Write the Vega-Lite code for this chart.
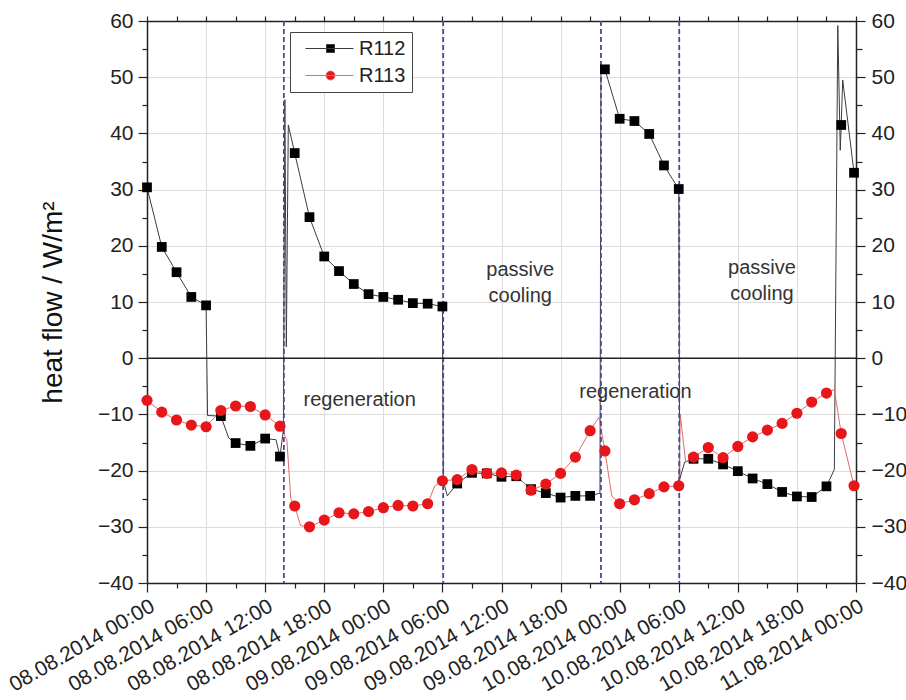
{
  "$schema": "https://vega.github.io/schema/vega-lite/v6.json",
  "width": 709,
  "height": 562,
  "autosize": {"type": "none"},
  "padding": {"left": 147, "top": 21, "right": 50, "bottom": 117},
  "background": "white",
  "config": {
    "font": "Liberation Sans",
    "view": {"stroke": null},
    "axis": {"labelFont": "Liberation Sans", "titleFont": "Liberation Sans", "labelColor": "#222", "tickColor": "#222", "domainColor": "#222", "domainWidth": 1.5, "tickWidth": 1.2, "gridColor": "#dcdcdc", "gridWidth": 1},
    "legend": {"labelFont": "Liberation Sans"}
  },
  "datasets": {
    "hf": [
      {"series": "R112", "hour": 0, "value": 30.4, "m": 1},
      {"series": "R112", "hour": 1.5, "value": 19.8, "m": 1},
      {"series": "R112", "hour": 3, "value": 15.3, "m": 1},
      {"series": "R112", "hour": 4.5, "value": 10.9, "m": 1},
      {"series": "R112", "hour": 6, "value": 9.4, "m": 1},
      {"series": "R112", "hour": 6.15, "value": -10.2, "m": 0},
      {"series": "R112", "hour": 7.5, "value": -10.3, "m": 1},
      {"series": "R112", "hour": 8.3, "value": -14.2, "m": 0},
      {"series": "R112", "hour": 9, "value": -15.1, "m": 1},
      {"series": "R112", "hour": 10.5, "value": -15.6, "m": 1},
      {"series": "R112", "hour": 12, "value": -14.3, "m": 1},
      {"series": "R112", "hour": 13.1, "value": -14.5, "m": 0},
      {"series": "R112", "hour": 13.5, "value": -17.5, "m": 1},
      {"series": "R112", "hour": 13.85, "value": -12.8, "m": 0},
      {"series": "R112", "hour": 14.0, "value": 46, "m": 0},
      {"series": "R112", "hour": 14.15, "value": 2, "m": 0},
      {"series": "R112", "hour": 14.35, "value": 41.5, "m": 0},
      {"series": "R112", "hour": 15, "value": 36.5, "m": 1},
      {"series": "R112", "hour": 16.5, "value": 25.1, "m": 1},
      {"series": "R112", "hour": 18, "value": 18.1, "m": 1},
      {"series": "R112", "hour": 19.5, "value": 15.5, "m": 1},
      {"series": "R112", "hour": 21, "value": 13.2, "m": 1},
      {"series": "R112", "hour": 22.5, "value": 11.4, "m": 1},
      {"series": "R112", "hour": 24, "value": 10.9, "m": 1},
      {"series": "R112", "hour": 25.5, "value": 10.4, "m": 1},
      {"series": "R112", "hour": 27, "value": 9.8, "m": 1},
      {"series": "R112", "hour": 28.5, "value": 9.7, "m": 1},
      {"series": "R112", "hour": 30, "value": 9.2, "m": 1},
      {"series": "R112", "hour": 30.1, "value": -22, "m": 0},
      {"series": "R112", "hour": 30.5, "value": -24.5, "m": 0},
      {"series": "R112", "hour": 31.5, "value": -22.3, "m": 1},
      {"series": "R112", "hour": 33, "value": -20.4, "m": 1},
      {"series": "R112", "hour": 34.5, "value": -20.5, "m": 1},
      {"series": "R112", "hour": 36, "value": -21.1, "m": 1},
      {"series": "R112", "hour": 37.5, "value": -21.0, "m": 1},
      {"series": "R112", "hour": 39, "value": -23.3, "m": 1},
      {"series": "R112", "hour": 40.5, "value": -24.0, "m": 1},
      {"series": "R112", "hour": 42, "value": -24.8, "m": 1},
      {"series": "R112", "hour": 43.5, "value": -24.5, "m": 1},
      {"series": "R112", "hour": 45, "value": -24.5, "m": 1},
      {"series": "R112", "hour": 46.0, "value": -24.0, "m": 0},
      {"series": "R112", "hour": 46.1, "value": 52.0, "m": 0},
      {"series": "R112", "hour": 46.5, "value": 51.4, "m": 1},
      {"series": "R112", "hour": 48, "value": 42.6, "m": 1},
      {"series": "R112", "hour": 49.5, "value": 42.2, "m": 1},
      {"series": "R112", "hour": 51, "value": 39.9, "m": 1},
      {"series": "R112", "hour": 52.5, "value": 34.3, "m": 1},
      {"series": "R112", "hour": 54, "value": 30.1, "m": 1},
      {"series": "R112", "hour": 54.1, "value": -21.5, "m": 0},
      {"series": "R112", "hour": 54.6, "value": -18.5, "m": 0},
      {"series": "R112", "hour": 55.5, "value": -17.9, "m": 1},
      {"series": "R112", "hour": 57, "value": -17.9, "m": 1},
      {"series": "R112", "hour": 58.5, "value": -18.9, "m": 1},
      {"series": "R112", "hour": 60, "value": -20.1, "m": 1},
      {"series": "R112", "hour": 61.5, "value": -21.4, "m": 1},
      {"series": "R112", "hour": 63, "value": -22.4, "m": 1},
      {"series": "R112", "hour": 64.5, "value": -23.8, "m": 1},
      {"series": "R112", "hour": 66, "value": -24.6, "m": 1},
      {"series": "R112", "hour": 67.5, "value": -24.7, "m": 1},
      {"series": "R112", "hour": 69, "value": -22.8, "m": 1},
      {"series": "R112", "hour": 69.8, "value": -19.8, "m": 0},
      {"series": "R112", "hour": 70.15, "value": 59.2, "m": 0},
      {"series": "R112", "hour": 70.4, "value": 37.0, "m": 0},
      {"series": "R112", "hour": 70.5, "value": 41.5, "m": 1},
      {"series": "R112", "hour": 70.65, "value": 49.5, "m": 0},
      {"series": "R112", "hour": 71.8, "value": 33.0, "m": 1},
      {"series": "R113", "hour": 0, "value": -7.5, "m": 1},
      {"series": "R113", "hour": 1.5, "value": -9.6, "m": 1},
      {"series": "R113", "hour": 3, "value": -11.0, "m": 1},
      {"series": "R113", "hour": 4.5, "value": -11.9, "m": 1},
      {"series": "R113", "hour": 6, "value": -12.2, "m": 1},
      {"series": "R113", "hour": 7.5, "value": -9.3, "m": 1},
      {"series": "R113", "hour": 9, "value": -8.5, "m": 1},
      {"series": "R113", "hour": 10.5, "value": -8.6, "m": 1},
      {"series": "R113", "hour": 12, "value": -10.1, "m": 1},
      {"series": "R113", "hour": 13.5, "value": -12.1, "m": 1},
      {"series": "R113", "hour": 14.2, "value": -14.5, "m": 0},
      {"series": "R113", "hour": 14.6, "value": -25.0, "m": 0},
      {"series": "R113", "hour": 15, "value": -26.3, "m": 1},
      {"series": "R113", "hour": 15.6, "value": -29.8, "m": 0},
      {"series": "R113", "hour": 16.5, "value": -30.0, "m": 1},
      {"series": "R113", "hour": 18, "value": -28.8, "m": 1},
      {"series": "R113", "hour": 19.5, "value": -27.5, "m": 1},
      {"series": "R113", "hour": 21, "value": -27.7, "m": 1},
      {"series": "R113", "hour": 22.5, "value": -27.3, "m": 1},
      {"series": "R113", "hour": 24, "value": -26.6, "m": 1},
      {"series": "R113", "hour": 25.5, "value": -26.2, "m": 1},
      {"series": "R113", "hour": 27, "value": -26.3, "m": 1},
      {"series": "R113", "hour": 28.5, "value": -25.9, "m": 1},
      {"series": "R113", "hour": 29.2, "value": -22.8, "m": 0},
      {"series": "R113", "hour": 30, "value": -21.8, "m": 1},
      {"series": "R113", "hour": 31.5, "value": -21.6, "m": 1},
      {"series": "R113", "hour": 33, "value": -19.8, "m": 1},
      {"series": "R113", "hour": 34.5, "value": -20.5, "m": 1},
      {"series": "R113", "hour": 36, "value": -20.4, "m": 1},
      {"series": "R113", "hour": 37.5, "value": -20.8, "m": 1},
      {"series": "R113", "hour": 39, "value": -23.5, "m": 1},
      {"series": "R113", "hour": 40.5, "value": -22.4, "m": 1},
      {"series": "R113", "hour": 42, "value": -20.5, "m": 1},
      {"series": "R113", "hour": 43.5, "value": -17.6, "m": 1},
      {"series": "R113", "hour": 45, "value": -12.9, "m": 1},
      {"series": "R113", "hour": 45.9, "value": -10.5, "m": 0},
      {"series": "R113", "hour": 46.5, "value": -16.5, "m": 1},
      {"series": "R113", "hour": 47.2, "value": -24.5, "m": 0},
      {"series": "R113", "hour": 48, "value": -25.9, "m": 1},
      {"series": "R113", "hour": 49.5, "value": -25.2, "m": 1},
      {"series": "R113", "hour": 51, "value": -24.1, "m": 1},
      {"series": "R113", "hour": 52.5, "value": -22.9, "m": 1},
      {"series": "R113", "hour": 54, "value": -22.7, "m": 1},
      {"series": "R113", "hour": 54.15, "value": -10.0, "m": 0},
      {"series": "R113", "hour": 54.7, "value": -18.5, "m": 0},
      {"series": "R113", "hour": 55.5, "value": -17.6, "m": 1},
      {"series": "R113", "hour": 57, "value": -15.9, "m": 1},
      {"series": "R113", "hour": 58.5, "value": -17.7, "m": 1},
      {"series": "R113", "hour": 60, "value": -15.7, "m": 1},
      {"series": "R113", "hour": 61.5, "value": -14.0, "m": 1},
      {"series": "R113", "hour": 63, "value": -12.8, "m": 1},
      {"series": "R113", "hour": 64.5, "value": -11.6, "m": 1},
      {"series": "R113", "hour": 66, "value": -9.8, "m": 1},
      {"series": "R113", "hour": 67.5, "value": -7.8, "m": 1},
      {"series": "R113", "hour": 69, "value": -6.2, "m": 1},
      {"series": "R113", "hour": 69.8, "value": -5.6, "m": 0},
      {"series": "R113", "hour": 70.5, "value": -13.4, "m": 1},
      {"series": "R113", "hour": 71.8, "value": -22.7, "m": 1}
    ],
    "phases": [
      {"hour": 13.9}, {"hour": 30.08}, {"hour": 46.1}, {"hour": 54.05}
    ],
    "notes": [
      {"label": "passive\ncooling", "hour": 37.9, "value": 15.7},
      {"label": "passive\ncooling", "hour": 62.45, "value": 16.0},
      {"label": "regeneration", "hour": 21.6, "value": -7.5},
      {"label": "regeneration", "hour": 49.6, "value": -6.0}
    ]
  },
  "resolve": {
    "axis": {"x": "independent", "y": "independent"},
    "scale": {"color": "independent", "shape": "independent", "stroke": "independent", "size": "independent"}
  },
  "layer": [
    {
      "data": {"name": "hf"},
      "mark": {"type": "line", "strokeWidth": 1, "clip": true},
      "encoding": {
        "x": {"field": "hour", "type": "quantitative", "scale": {"domain": [0, 72], "nice": false, "zero": false},
          "axis": {"orient": "bottom", "values": [0, 6, 12, 18, 24, 30, 36, 42, 48, 54, 60, 66, 72], "title": null, "grid": true, "tickSize": 9,
            "labelExpr": "timeFormat(datetime(2014, 7, 8, datum.value), '%d.%m.%Y %H:%M')",
            "labelAngle": 330, "labelAlign": "right", "labelBaseline": "top", "labelFontSize": 21, "labelPadding": 3, "labelOverlap": false, "labelBound": false, "labelFlush": false}},
        "y": {"field": "value", "type": "quantitative", "scale": {"domain": [-40, 60], "nice": false, "zero": false},
          "axis": {"orient": "left", "values": [-40, -30, -20, -10, 0, 10, 20, 30, 40, 50, 60], "grid": true, "tickSize": 9, "labelFontSize": 21, "labelPadding": 5,
            "title": "heat flow / W/m²", "titleFontSize": 28, "titleFontWeight": "normal", "titleColor": "#111", "titlePadding": 30, "labelOverlap": false, "labelFlush": false}},
        "stroke": {"field": "series", "type": "nominal", "scale": {"domain": ["R112", "R113"], "range": ["#3c3c3c", "#e06b6b"]}, "legend": null}
      }
    },
    {
      "data": {"name": "phases"},
      "mark": {"type": "rule", "color": "#4848a8", "strokeWidth": 1.8, "strokeDash": [5, 3]},
      "encoding": {
        "x": {"field": "hour", "type": "quantitative", "scale": {"domain": [0, 72], "nice": false, "zero": false},
          "axis": {"orient": "top", "values": [0, 3, 6, 9, 12, 15, 18, 21, 24, 27, 30, 33, 36, 39, 42, 45, 48, 51, 54, 57, 60, 63, 66, 69, 72], "labels": false, "grid": false, "tickSize": 5, "title": null}}
      }
    },
    {
      "data": {"values": [{"z": 0}]},
      "mark": {"type": "rule", "color": "#222", "strokeWidth": 1.5},
      "encoding": {
        "y": {"field": "z", "type": "quantitative", "scale": {"domain": [-40, 60], "nice": false, "zero": false},
          "axis": {"orient": "right", "values": [-40, -30, -20, -10, 0, 10, 20, 30, 40, 50, 60], "grid": false, "tickSize": 9, "labelFontSize": 21, "labelPadding": 6, "title": null, "labelOverlap": false, "labelFlush": false}}
      }
    },
    {
      "data": {"name": "hf"},
      "transform": [{"filter": "datum.m == 1"}],
      "mark": {"type": "point", "filled": true, "opacity": 1, "clip": false},
      "encoding": {
        "x": {"field": "hour", "type": "quantitative", "scale": {"domain": [0, 72], "nice": false, "zero": false},
          "axis": {"orient": "bottom", "values": [3, 9, 15, 21, 27, 33, 39, 45, 51, 57, 63, 69], "labels": false, "grid": false, "domain": false, "tickSize": 5, "title": null}},
        "y": {"field": "value", "type": "quantitative", "scale": {"domain": [-40, 60], "nice": false, "zero": false},
          "axis": {"orient": "left", "values": [-35, -25, -15, -5, 5, 15, 25, 35, 45, 55], "labels": false, "grid": false, "domain": false, "tickSize": 5, "title": null}},
        "color": {"field": "series", "type": "nominal", "scale": {"domain": ["R112", "R113"], "range": ["#000000", "#e8161b"]}, "legend": null},
        "shape": {"field": "series", "type": "nominal", "scale": {"domain": ["R112", "R113"], "range": ["square", "circle"]}, "legend": null},
        "size": {"field": "series", "type": "nominal", "scale": {"domain": ["R112", "R113"], "range": [95, 125]}, "legend": null}
      }
    },
    {
      "data": {"name": "hf"},
      "transform": [{"filter": "false"}],
      "mark": {"type": "point", "filled": true, "opacity": 1, "strokeWidth": 1},
      "encoding": {
        "x": {"field": "hour", "type": "quantitative", "scale": {"domain": [0, 72], "nice": false, "zero": false}, "axis": null},
        "y": {"field": "value", "type": "quantitative", "scale": {"domain": [-40, 60], "nice": false, "zero": false}, "axis": null},
        "color": {"field": "series", "type": "nominal", "scale": {"domain": ["R112", "R113"], "range": ["#000000", "#e8161b"]},
          "legend": {"orient": "none", "legendX": 143, "legendY": 11, "title": null, "labelFontSize": 20, "labelColor": "#222",
            "symbolSize": 400, "labelOffset": 42, "rowPadding": 6, "padding": 6, "strokeColor": "#444", "fillColor": "white",
            "labelExpr": "datum.label + '\u00a0\u00a0\u00a0'", "symbolStrokeWidth": 1, "symbolOpacity": 1}},
        "stroke": {"field": "series", "type": "nominal", "scale": {"domain": ["R112", "R113"], "range": ["#3c3c3c", "#e06b6b"]},
          "legend": {"orient": "none", "legendX": 143, "legendY": 11, "title": null, "labelFontSize": 20, "labelColor": "#222",
            "symbolSize": 400, "labelOffset": 42, "rowPadding": 6, "padding": 6, "strokeColor": "#444", "fillColor": "white",
            "labelExpr": "datum.label + '\u00a0\u00a0\u00a0'", "symbolStrokeWidth": 1, "symbolOpacity": 1}},
        "shape": {"field": "series", "type": "nominal", "scale": {"domain": ["R112", "R113"], "range": ["M-0.1,0H4.7M2,-0.4H2.8V0.4H2Z", "M-0.1,0H4.7M1.95,0A0.45,0.45 0 1,1 2.85,0A0.45,0.45 0 1,1 1.95,0Z"]},
          "legend": {"orient": "none", "legendX": 143, "legendY": 11, "title": null, "labelFontSize": 20, "labelColor": "#222",
            "symbolSize": 400, "labelOffset": 42, "rowPadding": 6, "padding": 6, "strokeColor": "#444", "fillColor": "white",
            "labelExpr": "datum.label + '\u00a0\u00a0\u00a0'", "symbolStrokeWidth": 1, "symbolOpacity": 1}}
      }
    },
    {
      "data": {"name": "notes"},
      "mark": {"type": "text", "fontSize": 20, "color": "#333", "lineBreak": "\n", "lineHeight": 26, "align": "center", "baseline": "middle"},
      "encoding": {
        "x": {"field": "hour", "type": "quantitative", "scale": {"domain": [0, 72], "nice": false, "zero": false}, "axis": null},
        "y": {"field": "value", "type": "quantitative", "scale": {"domain": [-40, 60], "nice": false, "zero": false},
          "axis": {"orient": "right", "values": [-35, -25, -15, -5, 5, 15, 25, 35, 45, 55], "labels": false, "grid": false, "domain": false, "tickSize": 6, "title": null}},
        "text": {"field": "label"}
      }
    }
  ]
}
